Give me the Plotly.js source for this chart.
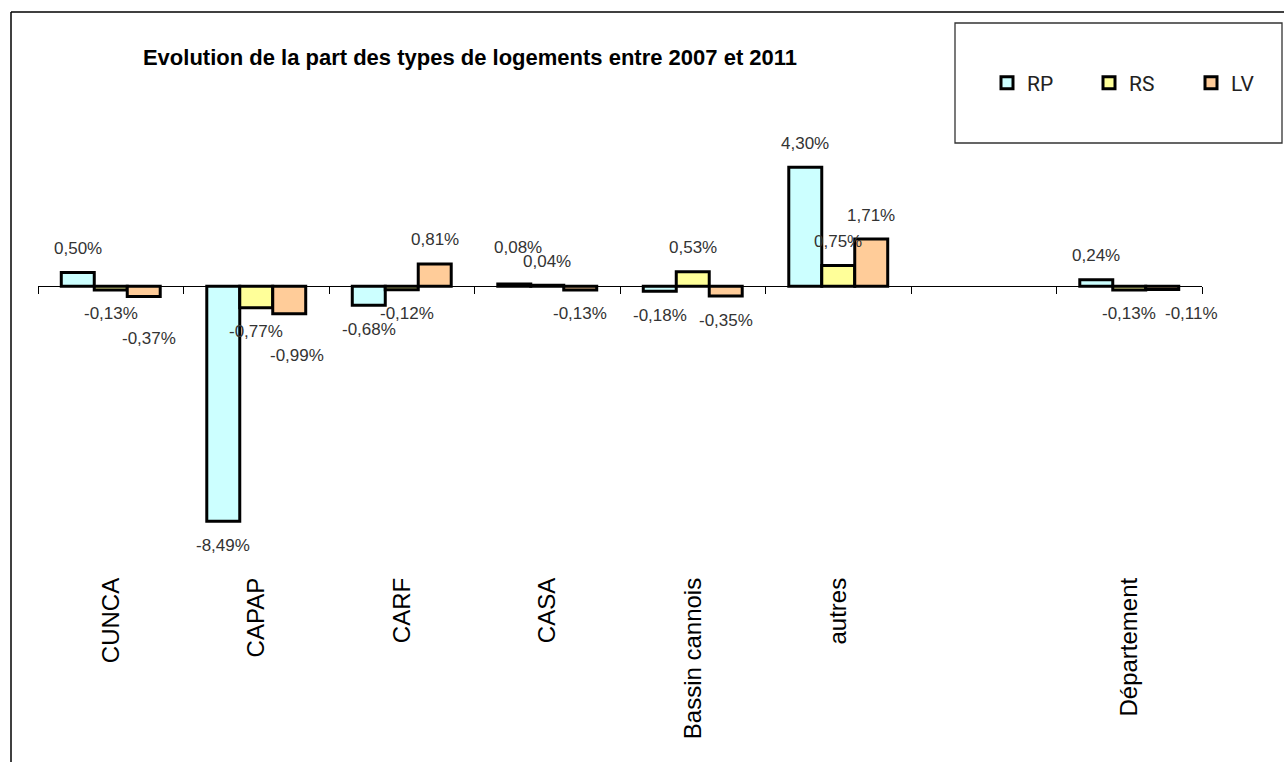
<!DOCTYPE html>
<html>
<head>
<meta charset="utf-8">
<script src="https://cdn.plot.ly/plotly-3.0.1.min.js"></script>
<style>html,body{margin:0;padding:0;background:#fff;overflow:hidden;}#chart{width:1284px;height:762px;}</style>
</head>
<body>
<div id="chart"></div>
<script>
// ---- data ----
const categories = ['CUNCA', 'CAPAP', 'CARF', 'CASA', 'Bassin cannois', 'autres', '', 'Département'];
const seriesNames = ['RP', 'RS', 'LV'];
const rpValues = [0.50, -8.49, -0.68, 0.08, -0.18, 4.30, null, 0.24];
const rsValues = [-0.13, -0.77, -0.12, 0.04, 0.53, 0.75, null, -0.13];
const lvValues = [-0.37, -0.99, 0.81, -0.13, -0.35, 1.71, null, -0.11];
const titleText = 'Evolution de la part des types de logements entre 2007 et 2011';

// ---- styling ----
const colors = ['#CCFFFF', '#FFFF99', '#FFCC99'];
const bargap = 0.32;
const FONT = '"Liberation Sans", Arial, sans-serif';
const W = 1284, H = 762;
const M = {l: 38, r: W - 1202, t: 148, b: H - 563, autoexpand: false};
const plotW = W - M.l - M.r, plotH = H - M.t - M.b;
const yRange = [-10, 5];
const px2x = p => (p - M.l) / plotW;
const px2y = p => (H - M.b - p) / plotH;

const allSeries = [rpValues, rsValues, lvValues];
const idx = categories.map((c, i) => i);

const traces = allSeries.map((vals, s) => ({
  type: 'bar',
  name: seriesNames[s],
  x: idx,
  y: vals,
  marker: {color: colors[s], line: {color: '#000', width: 3}},
  hoverinfo: 'none'
}));

// label nudges (pixels) to mimic the original's placement where labels collide
const nudges = {
  'CUNCA|LV': [5, -18],
  'CAPAP|LV': [8, -18],
  'CARF|RS': [5, 0],
  'CASA|RP': [4, 13],
  'Département|LV': [29, 0]
};

const barW = (1 - bargap) / 3;
const annotations = [];
allSeries.forEach((vals, s) => {
  vals.forEach((v, i) => {
    if (v === null) return;
    const key = categories[i] + '|' + seriesNames[s];
    const n = nudges[key] || [0, 0];
    annotations.push({
      xref: 'x', yref: 'y',
      x: i + (s - 1) * barW, y: v,
      text: v.toFixed(2).replace('.', ',') + '%',
      showarrow: false,
      xanchor: 'center', yanchor: 'middle',
      xshift: n[0],
      yshift: (v >= 0 ? 24 : -24) + n[1],
      font: {family: FONT, size: 17, color: '#333'}
    });
  });
});

const boundaries = categories.map((c, i) => i - 0.5).concat([categories.length - 0.5]);

const layout = {
  width: W, height: H,
  margin: M,
  paper_bgcolor: '#fff', plot_bgcolor: 'rgba(0,0,0,0)',
  barmode: 'group', bargap: bargap, bargroupgap: 0,
  showlegend: true,
  title: {
    text: '<b>' + titleText + '</b>',
    x: 470 / W, xref: 'container', xanchor: 'center',
    y: 1 - 57 / H, yref: 'container', yanchor: 'middle',
    font: {family: FONT, size: 22, color: '#000'}
  },
  xaxis: {
    range: [-0.5, categories.length - 0.5],
    tickvals: idx, ticktext: categories,
    tickangle: -90,
    ticks: '', showline: false, showgrid: false, zeroline: false,
    ticklabelstandoff: 9, automargin: false,
    tickfont: {family: FONT, size: 24, color: '#000'}
  },
  xaxis2: {
    overlaying: 'x', anchor: 'free', side: 'bottom',
    position: (0 - yRange[0]) / (yRange[1] - yRange[0]),
    range: [-0.5, categories.length - 0.5],
    tickvals: boundaries, showticklabels: false,
    ticks: 'outside', ticklen: 7, tickwidth: 1, tickcolor: '#000',
    showline: true, linecolor: '#000', linewidth: 1,
    showgrid: false, zeroline: false, layer: 'above traces'
  },
  yaxis: {
    range: yRange, showticklabels: false, showgrid: false,
    zeroline: false, showline: false, ticks: ''
  },
  legend: {
    orientation: 'h',
    x: px2x(987), xanchor: 'left',
    y: px2y(83), yanchor: 'middle',
    bgcolor: 'rgba(0,0,0,0)', borderwidth: 0,
    font: {family: 'Roboto, sans-serif', size: 21, color: '#222'},
    entrywidth: 57, entrywidthmode: 'pixels',
    traceorder: 'normal'
  },
  shapes: [
    {type: 'rect', xref: 'paper', yref: 'paper',
     x0: px2x(955), x1: px2x(1282), y0: px2y(143), y1: px2y(23),
     line: {color: '#333', width: 1.3}, fillcolor: 'rgba(0,0,0,0)'},
    {type: 'line', xref: 'paper', yref: 'paper',
     x0: px2x(11), x1: px2x(W + 5), y0: px2y(12), y1: px2y(12),
     line: {color: '#000', width: 1.5}},
    {type: 'line', xref: 'paper', yref: 'paper',
     x0: px2x(11), x1: px2x(11), y0: px2y(12), y1: px2y(H + 5),
     line: {color: '#000', width: 1.5}}
  ],
  annotations: annotations
};

// empty trace to activate xaxis2 (zero line with category boundary ticks)
traces.push({type: 'scatter', x: [], y: [], xaxis: 'x2', yaxis: 'y', showlegend: false, hoverinfo: 'none'});

Plotly.newPlot('chart', traces, layout, {displayModeBar: false, staticPlot: true});
</script>
</body>
</html>
